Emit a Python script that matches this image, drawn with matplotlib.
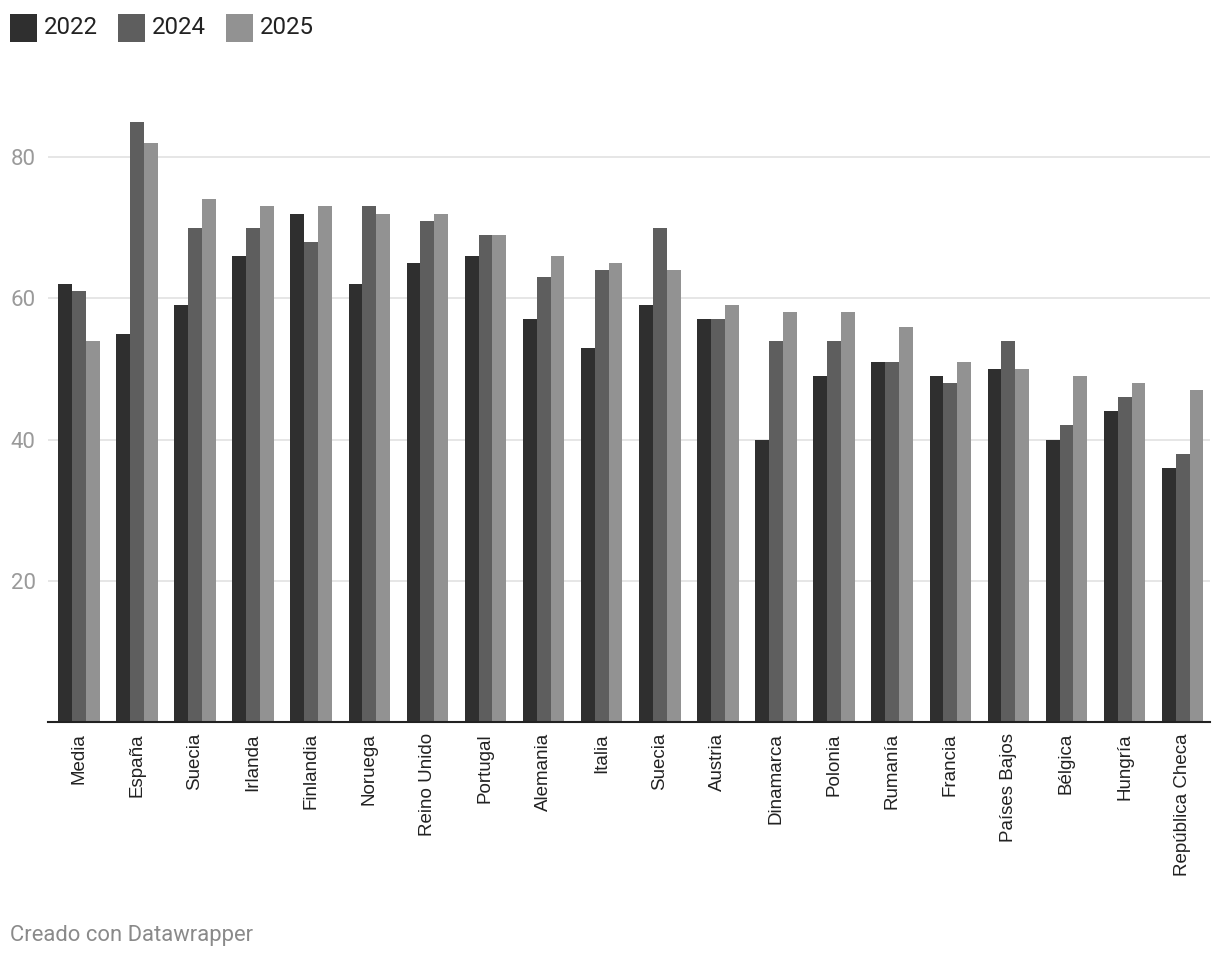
import matplotlib
matplotlib.use("Agg")
import matplotlib.pyplot as plt
import numpy as np
from matplotlib.patches import Rectangle

categories = ["Media", "España", "Suecia", "Irlanda", "Finlandia", "Noruega",
              "Reino Unido", "Portugal", "Alemania", "Italia", "Suecia", "Austria",
              "Dinamarca", "Polonia", "Rumanía", "Francia", "Países Bajos",
              "Bélgica", "Hungría", "República Checa"]
series_names = ["2022", "2024", "2025"]
v2022 = [62, 55, 59, 66, 72, 62, 65, 66, 57, 53, 59, 57, 40, 49, 51, 49, 50, 40, 44, 36]
v2024 = [61, 85, 70, 70, 68, 73, 71, 69, 63, 64, 70, 57, 54, 54, 51, 48, 54, 42, 46, 38]
v2025 = [54, 82, 74, 73, 73, 72, 72, 69, 66, 65, 64, 59, 58, 58, 56, 51, 50, 49, 48, 47]
yticks = [20, 40, 60, 80]
colors = ["#2f2f2f", "#5e5e5e", "#929292"]

plt.rcParams['font.family'] = ['Roboto', 'DejaVu Sans']

W, H = 1220, 958
fig = plt.figure(figsize=(W / 100, H / 100), dpi=100)
ax_left, ax_right, ax_bottom, ax_top = 48, 1210, 722, 86.4
ax = fig.add_axes([ax_left / W, 1 - ax_bottom / H, (ax_right - ax_left) / W, (ax_bottom - ax_top) / H])

x = np.arange(len(categories))
bw = 0.238
for i, vals in enumerate([v2022, v2024, v2025]):
    ax.bar(x + (i - 1) * bw, vals, width=bw, color=colors[i], linewidth=0, zorder=3)

ax.set_xlim(-0.53, len(categories) - 0.53)
ax.set_ylim(0, 90)
ax.set_yticks(yticks)
ax.set_yticklabels([str(t) for t in yticks], fontsize=16, color="#9a9a9a")
ax.yaxis.grid(True, color="#e6e6e6", linewidth=1.4, zorder=0)
ax.tick_params(axis='y', length=0, pad=9)
ax.set_xticks(x)
ax.set_xticklabels(categories, rotation=90, fontsize=13.5, color="#222222", va='top',
                   family=['Liberation Sans', 'DejaVu Sans'])
ax.tick_params(axis='x', length=0, pad=8)
for s in ["top", "right", "left"]:
    ax.spines[s].set_visible(False)
ax.spines["bottom"].set_color("#222222")
ax.spines["bottom"].set_linewidth(1.5)
ax.spines["bottom"].set_zorder(4)

# legend
lx = 10
for name, c in zip(series_names, colors):
    fig.add_artist(Rectangle((lx / W, 1 - 42 / H), 27 / W, 28 / H, transform=fig.transFigure,
                             facecolor=c, edgecolor='none'))
    fig.text((lx + 34) / W, 1 - 28 / H, name, fontsize=17.3, color="#222222", va='center', ha='left')
    lx += 108

fig.text(10 / W, 1 - 935 / H, "Creado con Datawrapper", fontsize=15.8, color="#8a8a8a", va='center', ha='left')

fig.savefig("out.png", dpi=100, facecolor="white")
